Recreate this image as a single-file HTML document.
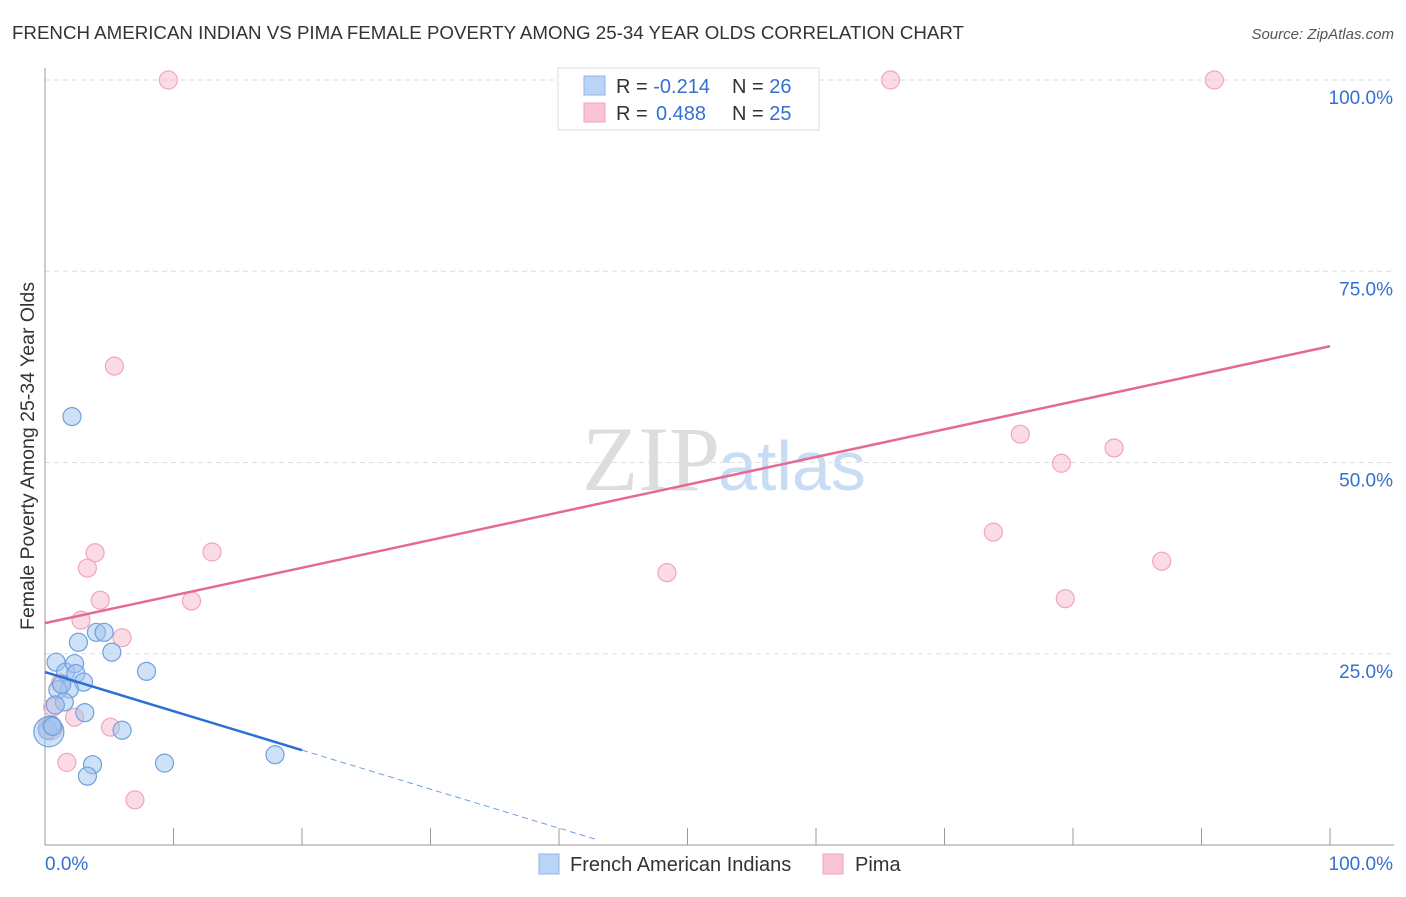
<!DOCTYPE html>
<html><head><meta charset="utf-8"><style>
body{margin:0;background:#fff;font-family:"Liberation Sans",sans-serif}
</style></head><body>
<svg id="c" width="1406" height="892" xmlns="http://www.w3.org/2000/svg">
<text x="12" y="39" font-size="18" fill="#333" textLength="952" lengthAdjust="spacingAndGlyphs">FRENCH AMERICAN INDIAN VS PIMA FEMALE POVERTY AMONG 25-34 YEAR OLDS CORRELATION CHART</text>
<text x="1394" y="39" font-size="15" fill="#555" font-style="italic" text-anchor="end">Source: ZipAtlas.com</text>
<text x="720" y="490" font-size="92" fill="#ddd" text-anchor="end" font-family="Liberation Serif">ZIP</text>
<text x="718" y="490" font-size="70" fill="#c8dcf3">atlas</text>
<text transform="translate(34,456) rotate(-90)" font-size="19.5" fill="#333" text-anchor="middle">Female Poverty Among 25-34 Year Olds</text>
<g id="grid"></g><g id="pts"></g><g id="lines"></g>
<g>
<rect x="558" y="68" width="261" height="62" fill="#fff" stroke="#ddd"/>
<rect x="584" y="76" width="21" height="19" fill="#b9d4f5" stroke="#8fb6e8"/>
<rect x="584" y="103" width="21" height="19" fill="#f9c4d3" stroke="#efa3b8"/>
<text x="616" y="93" font-size="20" fill="#333">R = <tspan fill="#3370d0">-0.214</tspan><tspan x="732">N = </tspan><tspan fill="#3370d0">26</tspan></text>
<text x="616" y="120" font-size="20" fill="#333">R = <tspan x="656" fill="#3370d0">0.488</tspan><tspan x="732">N = </tspan><tspan fill="#3370d0">25</tspan></text>
</g>
<g>
<rect x="539" y="854" width="20" height="20" fill="#b9d4f5" stroke="#8fb6e8"/>
<text x="570" y="871" font-size="20" fill="#333">French American Indians</text>
<rect x="823" y="854" width="20" height="20" fill="#f9c4d3" stroke="#efa3b8"/>
<text x="855" y="871" font-size="20" fill="#333">Pima</text>
</g>
</svg>
<script>
const yTicks=[25,50,75,100];
const yTickLabels=["25.0%","50.0%","75.0%","100.0%"];
const blueX=[2.1,0.86,1.6,2.3,2.4,2.6,4.0,4.6,5.2,3.0,1.9,1.0,1.5,3.1,7.9,6.0,0.5,0.2,3.7,3.3,9.3,17.9,0.8,1.3,0.3,0.6];
const blueY=[56.0,23.9,22.6,23.7,22.4,26.5,27.8,27.8,25.2,21.3,20.4,20.3,18.7,17.3,22.7,15.0,15.7,15.0,10.5,9.0,10.7,11.8,18.3,21.0,14.8,15.5];
const pinkX=[9.6,65.8,91,5.4,3.9,13.0,3.3,4.3,11.4,2.8,6.0,48.4,75.9,79.1,83.2,73.8,86.9,79.4,5.1,2.3,1.2,0.6,1.7,7.0,0.4];
const pinkY=[100,100,100,62.6,38.2,38.3,36.2,32.0,31.9,29.4,27.1,35.6,53.7,49.9,51.9,40.9,37.1,32.2,15.4,16.7,21.2,18.0,10.8,5.9,15.3];
const blueTrend=[22.6,-0.51];
const pinkTrend=[29.0,0.362];
const X=v=>45+v*12.85, Y=v=>845-v*7.65;
const NS="http://www.w3.org/2000/svg";
function mk(p,t,a){const e=document.createElementNS(NS,t);for(const k in a)e.setAttribute(k,a[k]);p.appendChild(e);return e;}
const g=document.getElementById('grid');
yTicks.forEach((t,i)=>{
 const l=mk(g,'line',{x1:45,x2:1394,y1:Y(t),y2:Y(t),stroke:'#ddd','stroke-dasharray':'5,4'});
 
 
 const tx=mk(g,'text',{x:1393,y:Y(t)+24,'font-size':19,fill:'#3370d0','text-anchor':'end'});
 tx.textContent=yTickLabels[i];
 
 
});
const ax=mk(g,'line',{x1:45,x2:45,y1:68,y2:845,stroke:'#999'});


const bx=mk(g,'line',{x1:45,x2:1394,y1:845,y2:845,stroke:'#999'});


for(let i=1;i<=10;i++){const t=mk(g,'line',{x1:X(i*10),x2:X(i*10),y1:828,y2:845,stroke:'#999'});
 
 }
const x0=mk(g,'text',{x:45,y:870,'font-size':19,fill:'#3370d0'});x0.textContent='0.0%';


const x1=mk(g,'text',{x:1393,y:870,'font-size':19,fill:'#3370d0','text-anchor':'end'});x1.textContent='100.0%';


const P=document.getElementById('pts');
pinkX.forEach((v,i)=>{const c=mk(P,'circle',{cx:X(v),cy:Y(pinkY[i]),r:i==24?12:9,fill:'rgba(248,183,203,0.5)',stroke:'#f2a5bd','stroke-width':1.2});
 
 });
blueX.forEach((v,i)=>{const c=mk(P,'circle',{cx:X(v),cy:Y(blueY[i]),r:i==24?15:9,fill:'rgba(160,196,240,0.5)',stroke:'#6fa0e0','stroke-width':1.2});
 
 });
const L=document.getElementById('lines');
const pl=mk(L,'line',{x1:X(0),y1:Y(pinkTrend[0]),x2:X(100),y2:Y(pinkTrend[0]+pinkTrend[1]*100),stroke:'#e46a95','stroke-width':2.5});


const bl=mk(L,'line',{x1:X(0),y1:Y(blueTrend[0]),x2:X(20),y2:Y(blueTrend[0]+blueTrend[1]*20),stroke:'#2a6fd6','stroke-width':2.5});


const bd=mk(L,'line',{x1:X(20),y1:Y(blueTrend[0]+blueTrend[1]*20),x2:X(43),y2:Y(blueTrend[0]+blueTrend[1]*43),stroke:'#6fa0e0','stroke-width':1,'stroke-dasharray':'6,4'});


</script>
</body></html>
